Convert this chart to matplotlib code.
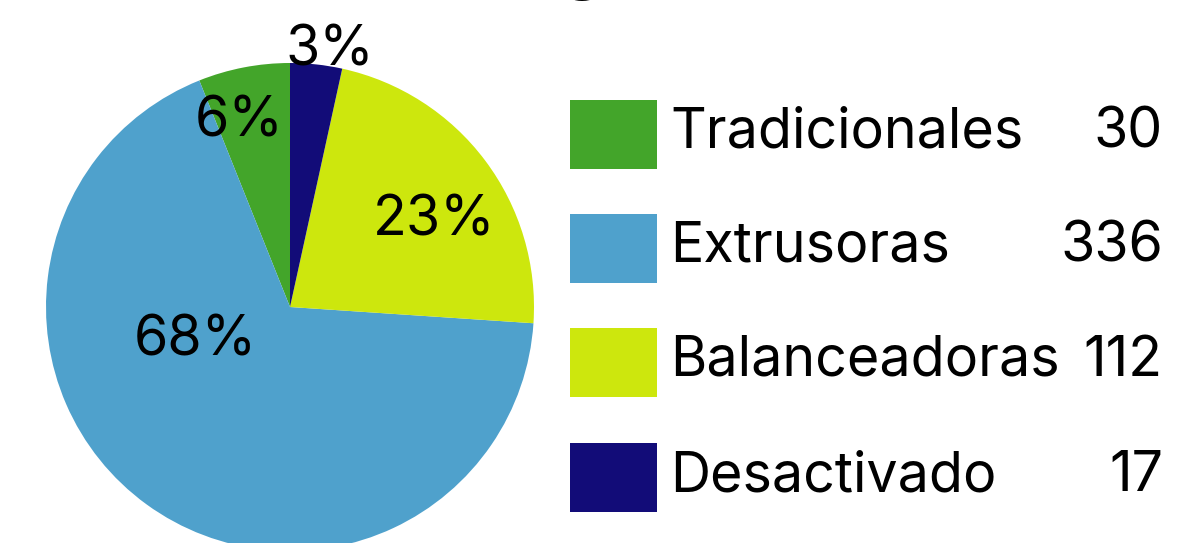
import matplotlib
matplotlib.use("Agg")
import matplotlib.pyplot as plt
from matplotlib.patches import Rectangle

categories = ["Tradicionales", "Extrusoras", "Balanceadoras", "Desactivado"]
counts = [30, 336, 112, 17]
colors = ["#43A52A", "#4FA1CC", "#CDE70D", "#120C78"]

plt.rcParams['font.family'] = ['Inter', 'DejaVu Sans']
plt.rcParams['font.weight'] = 'normal'

W, H = 1184, 543
fig = plt.figure(figsize=(W / 100, H / 100), dpi=100)

# pie axes: centre (290, 307) px, radius 244 px
cx, cy, r = 290, 307, 244
ax = fig.add_axes([(cx - r) / W, (H - cy - r) / H, 2 * r / W, 2 * r / H])
wedges, _, autotexts = ax.pie(counts, colors=colors, startangle=90, counterclock=True,
                              autopct=lambda p: f"{p:.0f}%", radius=1,
                              wedgeprops=dict(linewidth=0),
                              textprops=dict(fontsize=40, color="black"))
ax.set_xlim(-1, 1)
ax.set_ylim(-1, 1)
ax.set_aspect('equal')

# label placements (pixel centres / baselines) -> data coords
label_px = [(239, 137), (195, 356), (434, 236), (330, 66)]
for t, (px, py) in zip(autotexts, label_px):
    t.set_position(((px - cx) / r, (cy - py) / r))
    t.set_ha('center')
    t.set_va('baseline')

# legend drawn in pixel coordinates
lax = fig.add_axes([0, 0, 1, 1])
lax.set_xlim(0, W)
lax.set_ylim(H, 0)
lax.axis('off')
sq_tops = [100, 214, 328, 443]
baselines = [147, 262, 376, 491]
for cat, cnt, col, top, base in zip(categories, counts, colors, sq_tops, baselines):
    lax.add_patch(Rectangle((570, top), 87, 69, facecolor=col, edgecolor='none'))
    lax.text(670, base, cat, fontsize=40, ha='left', va='baseline')
    lax.text(1163, base, str(cnt), fontsize=40, ha='right', va='baseline')

# partially visible title
fig.text(583 / W, 1 + 17 / H, "g", fontsize=58, ha='center', va='baseline')

fig.savefig("out.png", dpi=100)
